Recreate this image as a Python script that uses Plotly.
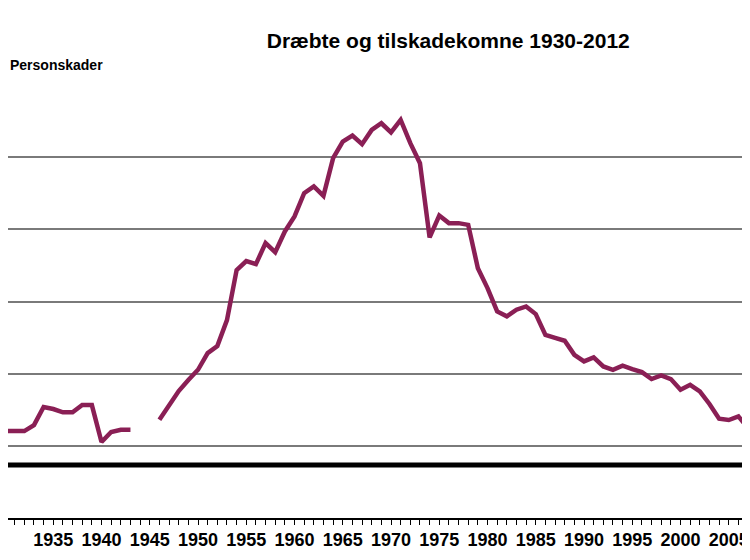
import plotly.graph_objects as go

years = list(range(1930, 2009))
injured = [6025, 6025, 6025, 6440, 7687, 7550, 7320, 7320, 7825, 7825,
           5263, 5955, 6115, 6115, None, None, 6807, 7825, 8795, 9557,
           10270, 11426, 11911, 13711, 17174, 17797, 17590, 19044, 18420, 19854,
           20892, 22506, 22970, 22320, 24930, 26085, 26500, 25900, 26890, 27350,
           26710, 27580, 25970, 24580, 19440, 20960, 20430, 20430, 20310, 17310,
           15930, 14310, 13970, 14430, 14660, 14130, 12690, 12480, 12280, 11310,
           10850, 11130, 10500, 10270, 10550, 10320, 10110, 9626, 9880, 9626,
           8885, 9230, 8774, 7900, 6877, 6786, 7043, 6232, 5194]
tick_years = list(range(1930, 2015, 5))
grid_values = [0, 5000, 10000, 15000, 20000, 25000, 30000]
black_line_value = 3670

fig = go.Figure()
fig.add_trace(go.Scatter(x=years, y=injured, mode="lines",
                         line=dict(color="#8a1f55", width=4.5),
                         connectgaps=False, showlegend=False))

fig.add_shape(type="line", xref="paper", x0=0, x1=1, yref="y",
              y0=black_line_value, y1=black_line_value,
              line=dict(color="black", width=5))

fig.update_layout(
    width=750, height=560,
    margin=dict(l=0, r=0, t=77, b=50, pad=0),
    paper_bgcolor="white", plot_bgcolor="white",
    font=dict(family="Liberation Sans Narrow, Arial, sans-serif", color="black"),
    title=dict(text="<b>Dræbte og tilskadekomne 1930-2012</b>", x=0.587, xanchor="center",
               y=0.942, yanchor="middle", automargin=False,
               font=dict(size=21, family="Liberation Sans, Arial, sans-serif")),
    xaxis=dict(range=[1930.31, 2008.03], tickvals=tick_years, automargin=False,
               ticks="outside", ticklen=5, tickcolor="black",
               showline=True, linecolor="black", linewidth=1.5,
               showgrid=False, zeroline=False,
               tickfont=dict(size=18, weight="bold"),
               minor=dict(dtick=1, tick0=1930, ticks="outside", ticklen=5, tickcolor="black")),
    yaxis=dict(range=[0, 30000], tickvals=grid_values, showticklabels=False, automargin=False,
               showgrid=True, gridcolor="#7a7a7a", gridwidth=1.5,
               zeroline=False, showline=False),
)

fig.add_annotation(text="<b>Personskader</b>", xref="paper", yref="paper",
                   x=0, xanchor="left", y=1.046, yanchor="middle",
                   showarrow=False,
                   font=dict(size=14, family="Liberation Sans, Arial, sans-serif"))

fig.write_html("out.html")
